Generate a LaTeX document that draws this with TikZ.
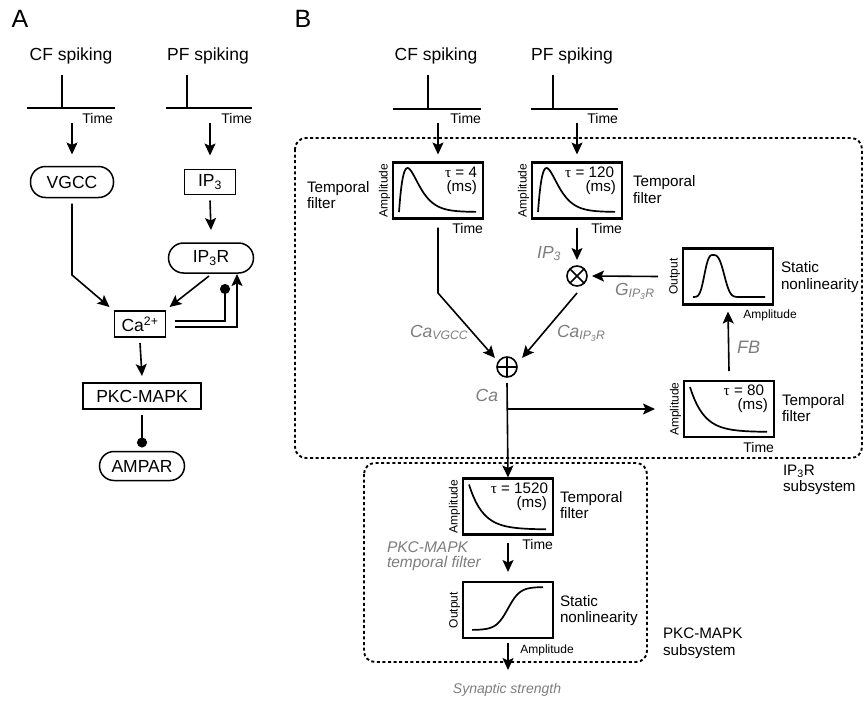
\documentclass[tikz,border=0pt]{standalone}
\usepackage{fontspec}
\setmainfont{Liberation Sans}
\newfontfamily\taufont{Liberation Serif}
\usetikzlibrary{arrows.meta,calc}
\definecolor{lblgray}{RGB}{125,125,125}
\newcommand\alphaplot[2]{\draw[curve] plot[domain=0:77,samples=90,smooth] ({#1+\x},{#2-44*(\x/8.5)*exp(1-\x/8.5)});}
\newcommand\decayplot[2]{\draw[curve] plot[domain=0:77,samples=60,smooth] ({#1+\x},{#2+45*(1-exp(-\x/14))});}
\begin{document}
\begin{tikzpicture}[x=1pt,y=-1pt,
  every node/.style={inner sep=0pt,outer sep=0pt},
  ln/.style={line width=1.6pt},
  arr/.style={ln,-{Stealth[length=12pt,width=11pt,inset=2.5pt]}},
  dotarr/.style={ln,-{Circle[length=10pt]}},
  fA/.style={font=\fontsize{17.5}{20}\selectfont},
  fT/.style={font=\fontsize{14}{16}\selectfont},
  fS/.style={font=\fontsize{12}{14}\selectfont},
  fL/.style={font=\fontsize{15.2}{16.5}\selectfont, align=left},
  fG/.style={font=\fontsize{17.5}{20}\selectfont\itshape, text=lblgray},
  abox/.style={draw, line width=1.5pt, fA},
  fbox/.style={draw, line width=2.2pt, minimum width=90pt, minimum height=56pt},
  subsys/.style={dash pattern=on 3pt off 2.6pt, line width=1.9pt, rounded corners=11pt},
  curve/.style={line width=1.7pt},
  bigl/.style={font=\fontsize{25}{27}\selectfont},
  opnode/.style={draw, circle, line width=1.6pt, minimum size=20pt},
]
\useasboundingbox (0,0) rectangle (866,701);

% ---------------- Panel A ----------------
\node[bigl, anchor=base] (labA) at (20,28) {A};
\node[bigl, anchor=base] (labB) at (303,28) {B};

\node[fA, anchor=base] (cfA) at (71,60) {CF spiking};
\node[fA, anchor=base] (pfA) at (208,60) {PF spiking};
\draw[ln] (27,108) -- (115,108) (62,75) -- (62,108);
\draw[ln] (166,108) -- (252,108) (187,75) -- (187,108);
\node[fT, anchor=base east] (tA1) at (113,123) {Time};
\node[fT, anchor=base east] (tA2) at (252,123) {Time};

\node[abox, minimum width=83pt, minimum height=31pt, rounded corners=15pt] (vgcc) at (72,182) {VGCC};
\node[abox, minimum width=51pt, minimum height=25pt] (ip3) at (210,182) {IP\textsubscript{3}};
\node[abox, minimum width=85pt, minimum height=30pt, rounded corners=15pt] (ip3r) at (211,258) {IP\textsubscript{3}R};
\node[abox, minimum width=51pt, minimum height=26pt] (ca) at (140,324) {Ca\textsuperscript{2+}};
\node[abox, minimum width=118pt, minimum height=26pt] (pkc) at (142,396) {PKC-MAPK};
\node[abox, minimum width=85pt, minimum height=29pt, rounded corners=14.5pt] (ampar) at (142,466) {AMPAR};

\coordinate (cfAo) at (72,123);
\coordinate (pfAo) at (210,123);
\draw[arr] (cfAo) -- ([yshift=12pt]vgcc.north);
\draw[arr] (pfAo) -- ([yshift=14pt]ip3.north);
\draw[arr] ([yshift=-6pt]ip3.south) -- ([yshift=13pt]ip3r.north);
\draw[arr] ([yshift=-6pt]vgcc.south) -- (72,275) -- ([shift={(-5pt,4pt)}]ca.north west);
\draw[arr] ([shift={(-2pt,-3pt)}]ip3r.south) -- ([shift={(4pt,4pt)}]ca.north east);
\draw[dotarr] ([shift={(9pt,3pt)}]ca.east) -| ([xshift=14pt,yshift=-11pt]ip3r.south);
\draw[arr] ([shift={(9pt,-3pt)}]ca.east) -| ([xshift=26pt,yshift=-1pt]ip3r.south);
\draw[arr] ([yshift=-6pt]ca.south) -- ([yshift=7pt]pkc.north);
\draw[dotarr] ([yshift=-6pt]pkc.south) -- ([yshift=4pt]ampar.north);

% ---------------- Panel B ----------------
\node[fA, anchor=base] (cfB) at (436,60) {CF spiking};
\node[fA, anchor=base] (pfB) at (572,60) {PF spiking};
\draw[ln] (393,109) -- (481,109) (428,75) -- (428,109);
\draw[ln] (531,109) -- (618,109) (553,75) -- (553,109);
\node[fT, anchor=base east] (tB1) at (481,123) {Time};
\node[fT, anchor=base east] (tB2) at (618,123) {Time};

% subsystems
\draw[subsys] (295,138) rectangle (862,458);
\draw[subsys] (364,463) rectangle (647,662);
\node[fL, anchor=west] (ip3rsub) at (783,480) {IP\textsubscript{3}R\\subsystem};
\node[fL, anchor=west] (pkcsub) at (663,643.5) {PKC-MAPK\\subsystem};

% filter boxes
\node[fbox] (fcf) at (438,190.5) {};
\node[fbox] (fpf) at (577,190.5) {};
\node[fbox] (fst) at (728,276.5) {};
\node[fbox] (f80) at (729,409) {};
\node[fbox] (f1520) at (508,506.5) {};
\node[fbox] (fsig) at (508,610) {};

% curves
\alphaplot{399}{212}
\alphaplot{538}{212}
\decayplot{690}{387}
\decayplot{469}{484.5}
\draw[curve] plot[domain=-20:0,samples=30,smooth] ({713+\x},{297-42*exp(-min(pow(abs(\x)/10,3),9))})
  -- plot[domain=0:52,samples=50,smooth] ({713+\x},{297-42*exp(-min(pow(\x/13,3),9))});
\draw[curve] plot[domain=472:543,samples=60,smooth] (\x,{630-43/(1+exp(-(\x-508)/6))});

% axis labels
\node[fS, rotate=90, anchor=south] (amp1) at ([xshift=-3pt]fcf.west) {Amplitude};
\node[fS, rotate=90, anchor=south] (amp2) at ([xshift=-3pt]fpf.west) {Amplitude};
\node[fS, rotate=90, anchor=south] (amp3) at ([xshift=-3pt]f80.west) {Amplitude};
\node[fS, rotate=90, anchor=south] (amp4) at ([xshift=-3pt]f1520.west) {Amplitude};
\node[fS, rotate=90, anchor=south] (out1) at ([xshift=-3pt]fst.west) {Output};
\node[fS, rotate=90, anchor=south] (out2) at ([xshift=-3pt]fsig.west) {Output};
\node[fT, anchor=base east] (ti1) at ($(fcf.south east)+(0,15)$) {Time};
\node[fT, anchor=base east] (ti2) at ($(fpf.south east)+(0,15)$) {Time};
\node[fT, anchor=base east] (ti3) at ($(f80.south east)+(0,15)$) {Time};
\node[fT, anchor=base east] (ti4) at ($(f1520.south east)+(0,15)$) {Time};
\node[fS, anchor=base] (am1) at ($(fst.south east)+(-3,14)$) {Amplitude};
\node[fS, anchor=base] (am2) at ($(fsig.south east)+(-6,15)$) {Amplitude};

% tau labels
\node[fL, anchor=base east] (tau1) at ($(fcf.north east)+(-6,14.5)$) {{\taufont τ} = 4};
\node[fL, anchor=base east] (ms1) at ($(fcf.north east)+(-6,28.5)$) {(ms)};
\node[fL, anchor=base east] (tau2) at ($(fpf.north east)+(-8,14.5)$) {{\taufont τ} = 120};
\node[fL, anchor=base east] (ms2) at ($(fpf.north east)+(-6,28.5)$) {(ms)};
\node[fL, anchor=base east] (tau3) at ($(f80.north east)+(-10,14.5)$) {{\taufont τ} = 80};
\node[fL, anchor=base east] (ms3) at ($(f80.north east)+(-6,28.5)$) {(ms)};
\node[fL, anchor=base east] (tau4) at ($(f1520.north east)+(-5,14.5)$) {{\taufont τ} = 1520};
\node[fL, anchor=base east] (ms4) at ($(f1520.north east)+(-6,28.5)$) {(ms)};

% block names
\node[fL, anchor=west] (tfcf) at (307,195) {Temporal\\filter};
\node[fL, anchor=west] (tfpf) at (633,189.5) {Temporal\\filter};
\node[fL, anchor=west] (tf80) at (782,408) {Temporal\\filter};
\node[fL, anchor=west] (tf1520) at (560,505) {Temporal\\filter};
\node[fL, anchor=west] (snst) at (781,277) {Static\\nonlinearity};
\node[fL, anchor=west] (snsig) at (560,610.5) {Static\\nonlinearity};

% operators
\node[opnode] (mult) at (577,276) {};
\draw[line width=1.6pt] (mult.north west) -- (mult.south east) (mult.north east) -- (mult.south west);
\node[opnode] (add) at (507,367) {};
\draw[line width=1.6pt] (add.north) -- (add.south) (add.west) -- (add.east);

% arrows B
\coordinate (cfBo) at (438,123);
\coordinate (pfBo) at (577,123);
\draw[arr] (cfBo) -- ([yshift=8pt]fcf.north);
\draw[arr] (pfBo) -- ([yshift=8pt]fpf.north);
\draw[arr] ([yshift=-9pt]fpf.south) -- ([yshift=6pt]mult.north);
\draw[arr] ([xshift=-25pt]fst.west) -- ([xshift=5pt]mult.east);
\draw[arr] ([yshift=10pt]f80.north) -- ([yshift=-7pt]fst.south);
\draw[arr] ([yshift=-9pt]fcf.south) -- (438,293) -- ([shift={(-5pt,2pt)}]add.north west);
\draw[arr] ([yshift=-7pt]mult.south) -- ([shift={(8pt,2pt)}]add.north east);
\draw[arr] ([yshift=-6pt]add.south) -- ([yshift=1pt]f1520.north);
\coordinate (br) at (add.south |- f80.west);
\draw[arr] (br) -- ([xshift=-29pt]f80.west);
\draw[arr] ([yshift=-8pt]f1520.south) -- ([yshift=10pt]fsig.north);
\coordinate (synend) at (508,670);
\draw[arr] ([yshift=-5pt]fsig.south) -- (synend);

% gray labels
\node[fG, anchor=base east] (lip3) at (561,258) {IP\textsubscript{3}};
\node[fG, anchor=base west] (lg) at (615,295) {G\textsubscript{IP\textsubscript{3}R}};
\node[fG, anchor=base west] (lcav) at (410,337) {Ca\textsubscript{VGCC}};
\node[fG, anchor=base west] (lcai) at (557,337) {Ca\textsubscript{IP\textsubscript{3}R}};
\node[fG, anchor=base east] (lca) at (498,401) {Ca};
\node[fG, font=\fontsize{18}{20}\selectfont\itshape, anchor=base west] (lfb) at (737,353) {FB};
\node[fG, font=\fontsize{15.5}{14.5}\selectfont\itshape, align=left, anchor=west] (lpkc) at (387,556) {PKC-MAPK\\temporal filter};
\node[fG, font=\fontsize{14}{16}\selectfont\itshape, anchor=base] (lsyn) at (507,693) {Synaptic strength};
\end{tikzpicture}
\end{document}
